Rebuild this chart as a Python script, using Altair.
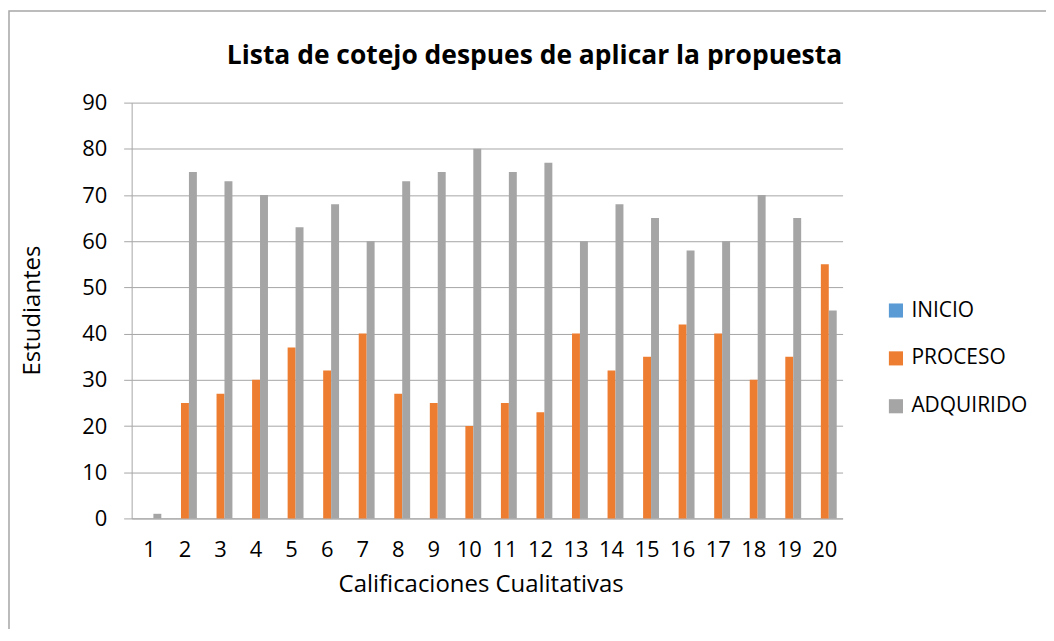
import altair as alt
import pandas as pd

titulo = "Lista de cotejo despues de aplicar la propuesta"
categorias = [str(i) for i in range(1, 21)]
series = ["INICIO", "PROCESO", "ADQUIRIDO"]
inicio = [0] * 20
proceso = [0, 25, 27, 30, 37, 32, 40, 27, 25, 20, 25, 23, 40, 32, 35, 42, 40, 30, 35, 55]
adquirido = [1, 75, 73, 70, 63, 68, 60, 73, 75, 80, 75, 77, 60, 68, 65, 58, 60, 70, 65, 45]
colores = ["#5B9BD5", "#ED7D31", "#A5A5A5"]
y_ticks = list(range(0, 91, 10))

rows = []
for i, c in enumerate(categorias):
    for s, vals in zip(series, [inicio, proceso, adquirido]):
        rows.append({"cat": c, "serie": s, "valor": vals[i]})
df = pd.DataFrame(rows)

FONT = "Open Sans"
GRID = "#A6A6A6"

bars = alt.Chart(df).mark_bar().encode(
    x=alt.X("cat:N", sort=categorias,
            scale=alt.Scale(paddingInner=0.33, paddingOuter=0.165),
            axis=alt.Axis(title="Calificaciones Cualitativas", labelAngle=0,
                          ticks=False, labelPadding=21, labelFontSize=22,
                          titleFontSize=24, titleFontWeight="normal",
                          domainColor=GRID, domainWidth=1,
                          titleX=350, titleY=66, titleBaseline="middle",
                          labelColor="#000", titleColor="#000", grid=False)),
    xOffset=alt.XOffset("serie:N", sort=series, scale=alt.Scale(paddingInner=0, paddingOuter=0)),
    y=alt.Y("valor:Q", scale=alt.Scale(domain=[0, 90], nice=False),
            axis=alt.Axis(title="Estudiantes", values=y_ticks, tickSize=8,
                          tickColor=GRID, domainColor=GRID, gridColor=GRID,
                          labelPadding=17, labelFontSize=22, titleFontSize=24,
                          titleFontWeight="normal", titleX=-99, titleY=208,
                          titleAngle=-90, titleBaseline="middle", titleAlign="center",
                          labelColor="#000", titleColor="#000")),
    color=alt.Color("serie:N", sort=series,
                    scale=alt.Scale(domain=series, range=colores),
                    legend=alt.Legend(title=None, orient="none", legendX=756, legendY=198,
                                      symbolType="square", symbolSize=200,
                                      symbolStrokeWidth=0, labelFontSize=21,
                                      labelColor="#000", rowPadding=26, labelOffset=5,
                                      labelLimit=300)),
)

border = alt.Chart(pd.DataFrame({"a": [0]})).mark_rect(
    fill=None, stroke="#A6A6A6", strokeWidth=1.5
).encode(
    x=alt.value(-123), x2=alt.value(1000), y=alt.value(-92), y2=alt.value(700)
)

title = alt.Chart(pd.DataFrame({"t": [titulo]})).mark_text(
    fontSize=26.5, fontWeight="bold", color="#000", font=FONT,
    align="center", baseline="middle"
).encode(text="t:N", x=alt.value(404), y=alt.value(-47))

chart = alt.layer(border, bars, title).properties(
    width=713, height=417,
    autosize=alt.AutoSizeParams(type="none"),
    padding={"left": 124, "top": 94, "right": 204, "bottom": 110},
).configure(font=FONT).configure_view(stroke=None)

chart.save("out.html", embed_options={"renderer": "svg", "actions": False})
